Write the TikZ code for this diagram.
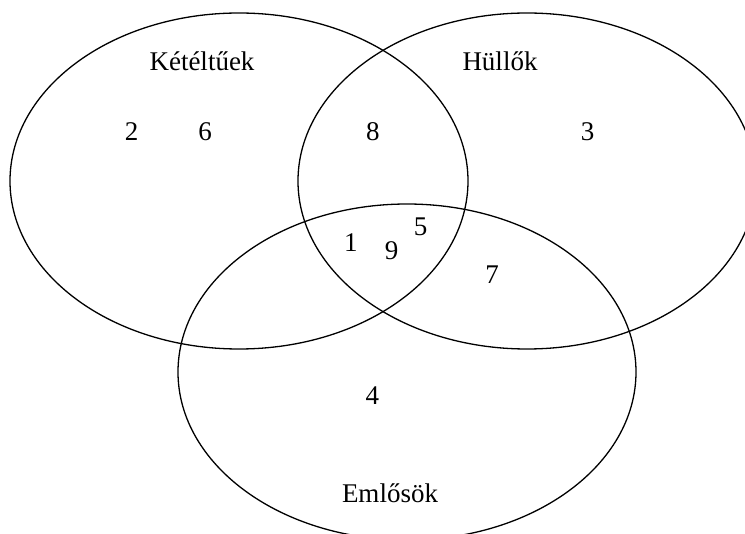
\documentclass[tikz,border=0pt]{standalone}
\usepackage{fontspec}
\setmainfont{Liberation Serif}
\usepackage{tikz}
\usetikzlibrary{shapes.geometric}

\begin{document}
\begin{tikzpicture}[x=1pt,y=-1pt]
\tikzstyle{set} = [ellipse,draw,line width=1.3pt,minimum width=458pt,minimum height=336pt,inner sep=0pt];
\tikzstyle{lbl} = [anchor=base,inner sep=0pt,font=\fontsize{27}{32}\selectfont];
\useasboundingbox (0,0) rectangle (745,534);
\clip (0,0) rectangle (745,534);
% the three sets
\node [set] (amph) at (239,181) {};
\node [set] (rept) at (527,181) {};
\node [set] (mamm) at (407,372) {};

\node [lbl] (amphName) at (202,70.7) {Kétéltűek};
\node [lbl] (reptName) at (500,70.7) {Hüllők};
\node [lbl] (mammName) at (390,502.7) {Emlősök};

% members
\node [lbl] (n2) at (131.7,140.7) {2};
\node [lbl] (n6) at (205,140.7) {6};
\node [lbl] (n8) at (372.8,140.7) {8};
\node [lbl] (n3) at (587.5,140.7) {3};
\node [lbl] (n1) at (350.8,251.7) {1};
\node [lbl] (n9) at (391.7,260) {9};
\node [lbl] (n5) at (420.5,235.7) {5};
\node [lbl] (n7) at (492,284) {7};
\node [lbl] (n4) at (372.3,405) {4};
\end{tikzpicture}
\end{document}
